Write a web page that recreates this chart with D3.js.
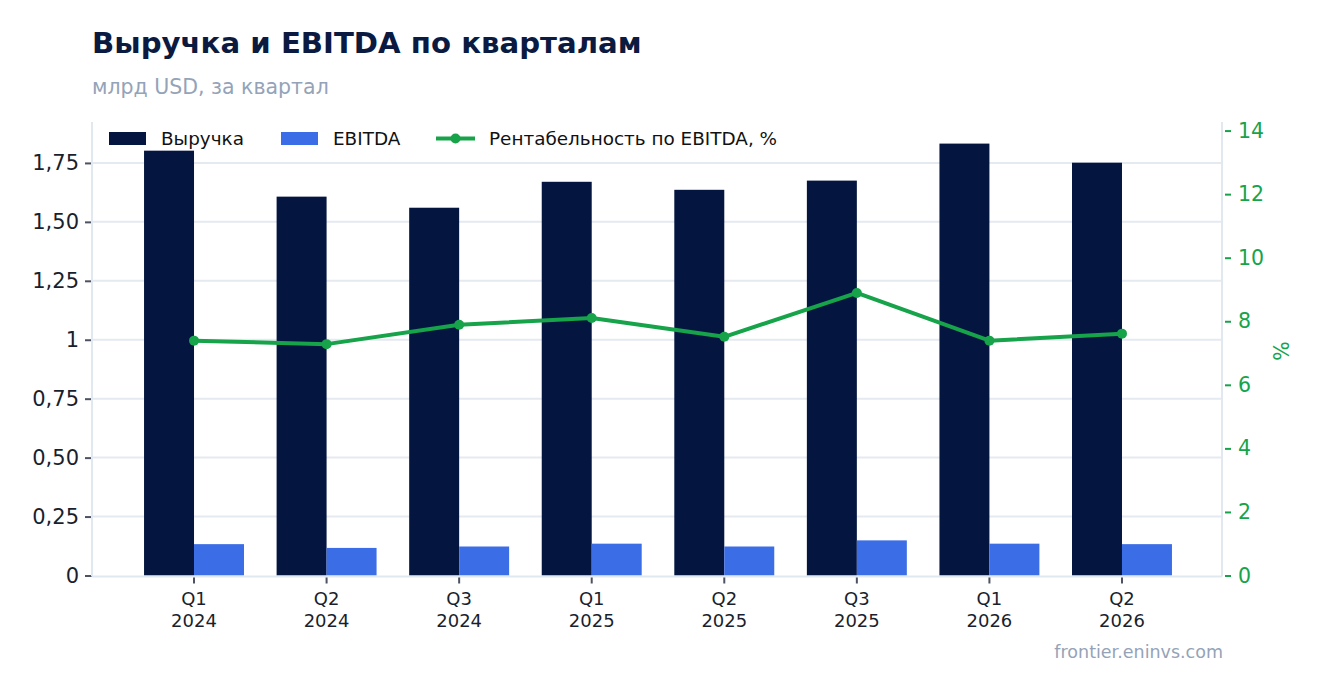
<!DOCTYPE html>
<html><head><meta charset="utf-8">
<script src="https://cdn.jsdelivr.net/npm/d3@7"></script>
<style>
body{margin:0;background:#fff;}
svg{font-family:"DejaVu Sans",sans-serif;}
</style></head>
<body>
<svg id="c" width="1323" height="693"></svg>
<script>
const quarters = ["Q1","Q2","Q3","Q1","Q2","Q3","Q1","Q2"];
const years = ["2024","2024","2024","2025","2025","2025","2026","2026"];
const revenue = [1.802, 1.607, 1.560, 1.670, 1.636, 1.675, 1.832, 1.751];
const ebitda = [0.133, 0.117, 0.123, 0.135, 0.123, 0.149, 0.135, 0.133];
const margin = [7.39, 7.28, 7.89, 8.10, 7.51, 8.89, 7.39, 7.61];
const leftTicks = [0, 0.25, 0.5, 0.75, 1, 1.25, 1.5, 1.75];
const leftTickLabels = ["0","0,25","0,50","0,75","1","1,25","1,50","1,75"];
const rightTicks = [0,2,4,6,8,10,12,14];
const seriesNames = ["Выручка","EBITDA","Рентабельность по EBITDA, %"];

const C_REV = "#04163f", C_EB = "#3b6de6", C_LINE = "#16a34a";
const svg = d3.select("#c");
const L = 92, R = 1222, T = 122, B = 575.5;
const idx = d3.range(quarters.length);

const x = d3.scaleBand().domain(idx).range([L+1, R+1]).paddingInner(0.246).paddingOuter(0.385);
const bw = x.bandwidth();
const xs = d3.scaleBand().domain([0,1]).range([0, bw]);
const y = d3.scaleLinear().domain([0, d3.max(revenue)*1.05]).range([B, T]);
const y2 = d3.scaleLinear().domain([0, 14.27]).range([B, T]);

// title
svg.append("text").attr("x",92).attr("y",53).attr("font-size",29.2).attr("font-weight","bold").attr("fill","#0b1a40").text("Выручка и EBITDA по кварталам");
svg.append("text").attr("x",92).attr("y",94).attr("font-size",20.5).attr("fill","#94a3b8").text("млрд USD, за квартал");
svg.append("text").attr("x",1223).attr("y",658).attr("text-anchor","end").attr("font-size",17.5).attr("fill","#94a3b8").text("frontier.eninvs.com");

// grid
svg.append("g").selectAll("line").data(leftTicks.slice(1)).join("line")
  .attr("x1",L).attr("x2",R).attr("y1",d=>y(d)).attr("y2",d=>y(d))
  .attr("stroke","#e5e9f0").attr("stroke-width",2);

// bars
const g = svg.append("g");
g.selectAll("rect.rev").data(idx).join("rect").attr("class","rev")
  .attr("x",i=>x(i)+xs(0)).attr("width",xs.bandwidth())
  .attr("y",i=>y(revenue[i])).attr("height",i=>B-y(revenue[i])).attr("fill",C_REV);
g.selectAll("rect.eb").data(idx).join("rect").attr("class","eb")
  .attr("x",i=>x(i)+xs(1)).attr("width",xs.bandwidth())
  .attr("y",i=>y(ebitda[i])).attr("height",i=>B-y(ebitda[i])).attr("fill",C_EB);

// left axis
const ya = svg.append("g").attr("transform",`translate(${L},0)`)
  .call(d3.axisLeft(y).tickValues(leftTicks).tickFormat((d,i)=>leftTickLabels[i]).tickSize(7).tickPadding(6));
ya.select(".domain").remove();
ya.selectAll(".tick line").attr("stroke","#4b5262").attr("stroke-width",2);
ya.selectAll(".tick text").attr("font-size",21).attr("fill","#1a1f2e").attr("font-family","DejaVu Sans");
svg.append("line").attr("x1",L).attr("x2",L).attr("y1",T).attr("y2",B+1).attr("stroke","#e2e8f0").attr("stroke-width",2);

// right axis
const ya2 = svg.append("g").attr("transform",`translate(${R},0)`)
  .call(d3.axisRight(y2).tickValues(rightTicks).tickSize(0).tickPadding(16));
ya2.select(".domain").remove();
ya2.selectAll(".tick line").remove();
ya2.selectAll(".tick").append("line").attr("x1",3).attr("x2",9).attr("stroke",C_LINE).attr("stroke-width",2);
ya2.selectAll(".tick text").attr("font-size",20.5).attr("fill",C_LINE).attr("font-family","DejaVu Sans");
svg.append("line").attr("x1",R).attr("x2",R).attr("y1",T).attr("y2",B+1).attr("stroke","#e2e8f0").attr("stroke-width",2);
svg.append("text").attr("transform",`translate(1289,351) rotate(-90)`).attr("text-anchor","middle")
  .attr("font-size",20.5).attr("fill",C_LINE).text("%");

// x axis
svg.append("line").attr("x1",L).attr("x2",R).attr("y1",B+1).attr("y2",B+1).attr("stroke","#e2e8f0").attr("stroke-width",2);
const xa = svg.append("g").attr("transform",`translate(0,${B+2})`)
  .call(d3.axisBottom(x).tickSize(6).tickFormat(""));
xa.select(".domain").remove();
xa.selectAll(".tick line").attr("stroke","#4b5262").attr("stroke-width",2);
const xl = svg.append("g");
idx.forEach(i=>{
  const cx = x(i)+xs(1);
  const t = xl.append("text").attr("x",cx).attr("y",605).attr("text-anchor","middle").attr("font-size",18).attr("fill","#1a1f2e");
  t.append("tspan").attr("x",cx).attr("dy",0).text(quarters[i]);
  t.append("tspan").attr("x",cx).attr("dy",22).text(years[i]);
});

// line
const lx = i=>x(i)+xs(1);
svg.append("path").datum(idx).attr("fill","none").attr("stroke",C_LINE).attr("stroke-width",4)
  .attr("stroke-linejoin","round")
  .attr("d",d3.line().x(lx).y(i=>y2(margin[i])));
svg.append("g").selectAll("circle").data(idx).join("circle")
  .attr("cx",lx).attr("cy",i=>y2(margin[i])).attr("r",5).attr("fill",C_LINE);

// legend
const lg = svg.append("g").attr("font-size",18.4).attr("fill","#111");
lg.append("rect").attr("x",109).attr("y",132).attr("width",37).attr("height",13).attr("fill",C_REV);
lg.append("text").attr("x",161).attr("y",145).text(seriesNames[0]);
lg.append("rect").attr("x",281).attr("y",132).attr("width",37).attr("height",13).attr("fill",C_EB);
lg.append("text").attr("x",333).attr("y",145).text(seriesNames[1]);
lg.append("line").attr("x1",436).attr("x2",475).attr("y1",138.5).attr("y2",138.5).attr("stroke",C_LINE).attr("stroke-width",4);
lg.append("circle").attr("cx",455.5).attr("cy",138.5).attr("r",5).attr("fill",C_LINE);
lg.append("text").attr("x",489).attr("y",145).text(seriesNames[2]);
</script>
</body></html>
